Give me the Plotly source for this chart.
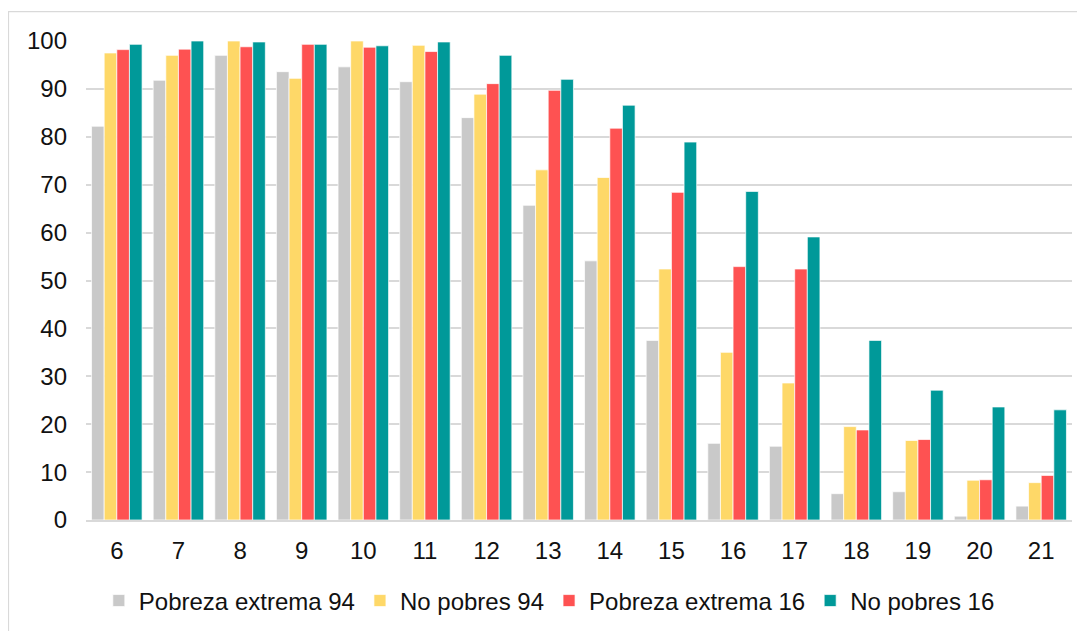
import plotly.graph_objects as go

edades = ["6", "7", "8", "9", "10", "11", "12", "13", "14", "15", "16", "17", "18", "19", "20", "21"]
pobreza_extrema_94 = [82.2, 91.8, 97.0, 93.6, 94.6, 91.5, 84.0, 65.7, 54.1, 37.5, 16.0, 15.4, 5.5, 5.9, 0.8, 2.9]
no_pobres_94 = [97.5, 97.0, 100.0, 92.2, 100.0, 99.1, 88.9, 73.1, 71.5, 52.4, 35.0, 28.6, 19.5, 16.6, 8.3, 7.8]
pobreza_extrema_16 = [98.2, 98.3, 98.8, 99.3, 98.7, 97.8, 91.1, 89.7, 81.8, 68.4, 52.9, 52.4, 18.8, 16.8, 8.4, 9.3]
no_pobres_16 = [99.3, 100.0, 99.8, 99.3, 99.0, 99.8, 97.0, 92.0, 86.6, 78.9, 68.6, 59.1, 37.5, 27.1, 23.6, 23.0]

series = [
    ("Pobreza extrema 94", pobreza_extrema_94, "#C9C9C9"),
    ("No pobres 94", no_pobres_94, "#FED868"),
    ("Pobreza extrema 16", pobreza_extrema_16, "#FE5252"),
    ("No pobres 16", no_pobres_16, "#009999"),
]

fig = go.Figure()
for name, vals, color in series:
    fig.add_trace(go.Bar(
        x=edades, y=vals, name=name,
        marker=dict(color=color, line=dict(color="white", width=0.7)),
    ))

FONT = "Liberation Sans, Arial, sans-serif"

fig.update_layout(
    width=1077, height=623,
    margin=dict(l=78, r=13, t=32.5, b=110.5, autoexpand=False),
    paper_bgcolor="white", plot_bgcolor="white",
    font=dict(family=FONT, size=24, color="#111111"),
    barmode="group", bargap=0.18, bargroupgap=0,
    showlegend=True,
    legend=dict(
        orientation="h", x=0.013, xanchor="left", y=-0.169, yanchor="middle",
        font=dict(family=FONT, size=24, color="#111111"),
        itemwidth=30, traceorder="normal",
    ),
    xaxis=dict(
        type="category", showgrid=False, showline=True, linecolor="#D9D9D9", linewidth=1.5,
        ticks="", ticklabelstandoff=8, tickfont=dict(size=24),
    ),
    yaxis=dict(
        range=[0, 100], dtick=10, tick0=0, showgrid=True, gridcolor="#D9D9D9", gridwidth=1.5,
        zeroline=False, showline=False, ticks="", ticklabelstandoff=18, tickfont=dict(size=24),
    ),
    shapes=[dict(
        type="rect", xref="paper", yref="paper",
        x0=-0.0786, x1=1.05, y0=-0.4, y1=1.0615,
        line=dict(color="#D9D9D9", width=1.2), fillcolor="rgba(0,0,0,0)", layer="below",
    )],
)

fig.write_html("out.html")
